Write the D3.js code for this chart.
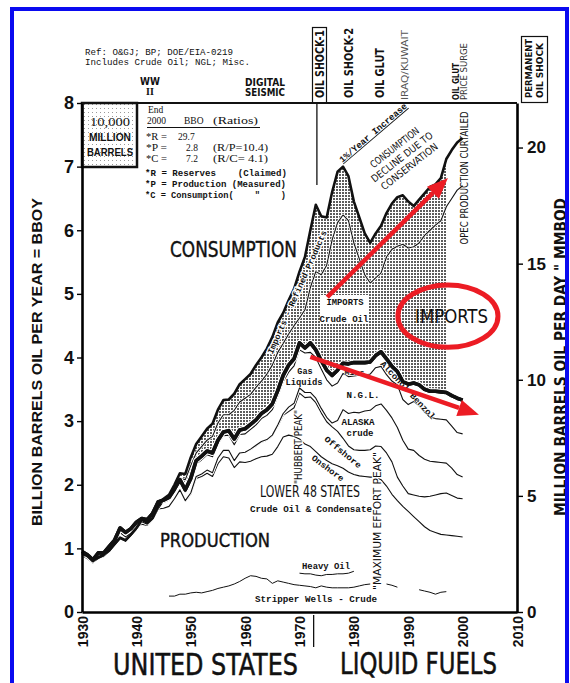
<!DOCTYPE html>
<html>
<head>
<meta charset="utf-8">
<script src="https://cdnjs.cloudflare.com/ajax/libs/d3/7.8.5/d3.min.js"></script>
<style>
  body { margin: 0; background: #fff; }
  svg { display: block; }
  .mono { font-family: "Liberation Mono", "DejaVu Sans Mono", monospace; }
  .serif { font-family: "Liberation Serif", "DejaVu Serif", serif; }
  .sans { font-family: "Liberation Sans", Arial, sans-serif; }
  .narrow { font-family: "Liberation Sans Narrow", "DejaVu Sans Condensed", "Liberation Sans", sans-serif; }
</style>
</head>
<body>
<div id="chart"></div>
<script>
// ---- data (billion barrels per year) ----
const years = d3.range(1930, 2001);

const consumption = [
  0.92, 0.88, 0.80, 0.86, 0.90, 0.97, 1.07, 1.17, 1.13, 1.22,
  1.32, 1.45, 1.40, 1.48, 1.66, 1.78, 1.84, 2.00, 2.18, 2.17,
  2.43, 2.64, 2.76, 2.88, 2.96, 3.18, 3.33, 3.34, 3.43, 3.58,
  3.66, 3.74, 3.88, 4.00, 4.14, 4.32, 4.55, 4.70, 4.90, 5.08,
  5.35, 5.58, 6.00, 6.40, 6.22, 6.20, 6.60, 6.92, 7.00, 6.85,
  6.45, 6.20, 5.95, 5.80, 5.95, 6.07, 6.27, 6.42, 6.52, 6.55,
  6.45, 6.38, 6.48, 6.58, 6.68, 6.72, 6.82, 7.12, 7.26, 7.38,
  7.45];

// consumption less refined product imports
const lessRefined = [
  0.90, 0.86, 0.78, 0.84, 0.88, 0.95, 1.05, 1.15, 1.11, 1.20,
  1.30, 1.42, 1.38, 1.46, 1.62, 1.74, 1.80, 1.94, 2.10, 2.08,
  2.30, 2.50, 2.60, 2.70, 2.76, 2.97, 3.10, 3.10, 3.17, 3.30,
  3.36, 3.42, 3.53, 3.63, 3.74, 3.88, 4.08, 4.22, 4.37, 4.50,
  4.62, 4.75, 5.10, 5.35, 5.30, 5.45, 5.85, 6.12, 6.24, 6.15,
  5.80, 5.55, 5.30, 5.17, 5.25, 5.33, 5.58, 5.70, 5.75, 5.78,
  5.72, 5.74, 5.80, 5.92, 6.00, 6.08, 6.15, 6.37, 6.50, 6.63,
  6.70];

// total liquids production (heavy line)
const production = [
  0.95, 0.90, 0.82, 0.93, 0.93, 1.03, 1.13, 1.32, 1.25, 1.31,
  1.41, 1.47, 1.45, 1.55, 1.73, 1.76, 1.80, 1.93, 2.08, 1.92,
  2.10, 2.38, 2.45, 2.53, 2.50, 2.70, 2.83, 2.85, 2.72, 2.86,
  2.88, 2.95, 3.02, 3.12, 3.18, 3.27, 3.48, 3.72, 3.88, 3.98,
  4.23, 4.15, 4.23, 4.12, 3.95, 3.80, 3.72, 3.80, 3.91, 3.90,
  3.92, 3.92, 3.92, 3.93, 4.03, 4.09, 3.98, 3.86, 3.78, 3.62,
  3.58, 3.60, 3.57, 3.50, 3.47, 3.47, 3.46, 3.45, 3.40, 3.36,
  3.33];

const crudeNgl = [
  0.93, 0.88, 0.80, 0.91, 0.91, 1.01, 1.11, 1.30, 1.23, 1.29,
  1.39, 1.44, 1.42, 1.52, 1.70, 1.72, 1.76, 1.89, 2.04, 1.88,
  2.05, 2.33, 2.39, 2.47, 2.44, 2.64, 2.77, 2.78, 2.63, 2.79,
  2.80, 2.87, 2.94, 3.04, 3.09, 3.18, 3.39, 3.62, 3.77, 3.87,
  4.12, 4.07, 4.08, 4.00, 3.82, 3.65, 3.55, 3.60, 3.75, 3.70,
  3.71, 3.72, 3.72, 3.74, 3.84, 3.86, 3.73, 3.63, 3.57, 3.34,
  3.26, 3.31, 3.24, 3.14, 3.06, 3.04, 3.03, 3.02, 2.92, 2.82,
  2.80];

const crude = [
  0.88, 0.84, 0.77, 0.87, 0.87, 0.97, 1.07, 1.25, 1.18, 1.24,
  1.33, 1.38, 1.36, 1.45, 1.62, 1.63, 1.66, 1.78, 1.92, 1.75,
  1.87, 2.13, 2.17, 2.23, 2.19, 2.42, 2.54, 2.54, 2.38, 2.50,
  2.51, 2.56, 2.62, 2.68, 2.71, 2.78, 2.94, 3.12, 3.22, 3.28,
  3.52, 3.45, 3.45, 3.36, 3.20, 3.06, 2.97, 3.01, 3.18, 3.12,
  3.14, 3.13, 3.16, 3.17, 3.24, 3.27, 3.17, 3.05, 2.90, 2.70,
  2.56, 2.54, 2.46, 2.40, 2.37, 2.36, 2.35, 2.34, 2.26, 2.16,
  2.12];

const lower48 = [
  null, null, null, null, null, null, null, null, null, null,
  null, null, null, null, null, null, null, null, null, null,
  null, null, null, null, null, null, null, null, 2.38, 2.50,
  2.51, 2.55, 2.61, 2.67, 2.70, 2.77, 2.92, 3.09, 3.15, 3.21,
  3.44, 3.37, 3.38, 3.29, 3.13, 2.99, 2.91, 2.84, 2.73, 2.61,
  2.55, 2.54, 2.54, 2.55, 2.61, 2.60, 2.50, 2.36, 2.12, 1.98,
  1.86, 1.84, 1.82, 1.81, 1.82, 1.84, 1.86, 1.87, 1.83, 1.79,
  1.78];

const onshore = [
  0.88, 0.84, 0.77, 0.87, 0.87, 0.97, 1.07, 1.25, 1.18, 1.24,
  1.33, 1.38, 1.36, 1.45, 1.62, 1.63, 1.66, 1.775, 1.91, 1.74,
  1.85, 2.10, 2.13, 2.18, 2.13, 2.33, 2.44, 2.42, 2.27, 2.36,
  2.35, 2.37, 2.41, 2.44, 2.45, 2.48, 2.60, 2.75, 2.78, 2.76,
  2.72, 2.64, 2.60, 2.52, 2.44, 2.38, 2.33, 2.30, 2.26, 2.20,
  2.16, 2.14, 2.13, 2.12, 2.12, 2.08, 1.98, 1.85, 1.75, 1.66,
  1.58, 1.50, 1.42, 1.34, 1.28, 1.25, 1.22, 1.21, 1.20, 1.19,
  1.18];

const heavyYears = d3.range(1970, 1981);
const heavyOil = [0.61, 0.60, 0.60, 0.58, 0.57, 0.59, 0.59, 0.60, 0.60, 0.61, 0.64];

const stripperYears = d3.range(1946, 1998);
const stripper = [
  0.25, 0.25, 0.28, 0.28, 0.30, 0.31, 0.30, 0.32, 0.34, 0.37,
  0.39, 0.41, 0.44, 0.48, 0.53, 0.57, 0.56, 0.53, 0.52, 0.45,
  0.49, 0.47, 0.45, 0.43, 0.42, 0.41, 0.40, 0.38, 0.41, 0.39,
  0.38, 0.38, 0.38, 0.38, 0.39, 0.41, 0.43, 0.44, null, null,
  0.44, 0.42, 0.39, null, null, null, 0.35, 0.33, 0.31, 0.28,
  0.31, 0.32];

const leftTicks = [0, 1, 2, 3, 4, 5, 6, 7, 8];
const rightTicks = [0, 5, 10, 15, 20];
const yearTicks = [1930, 1940, 1950, 1960, 1970, 1980, 1990, 2000, 2010];

// ---- setup ----
const W = 570, H = 683;
const svg = d3.select("#chart").append("svg").attr("width", W).attr("height", H);

const x = d3.scaleLinear().domain([1930, 2010]).range([82, 517]);
const y = d3.scaleLinear().domain([0, 8]).range([612, 103]);
const y2 = d3.scaleLinear().domain([0, 8000 / 365]).range([612, 103]);

const defs = svg.append("defs");
const dots = defs.append("pattern").attr("id", "dots")
  .attr("width", 3).attr("height", 3).attr("patternUnits", "userSpaceOnUse");
dots.append("rect").attr("width", 3).attr("height", 3).attr("fill", "#fff");
dots.append("rect").attr("width", 2).attr("height", 2).attr("fill", "#5c5c5c");
const boxDots = defs.append("pattern").attr("id", "boxdots")
  .attr("width", 4).attr("height", 4).attr("patternUnits", "userSpaceOnUse");
boxDots.append("rect").attr("width", 4).attr("height", 4).attr("fill", "#fff");
boxDots.append("rect").attr("width", 1).attr("height", 1).attr("fill", "#9a9a9a");

const pts = (ys, arr) => ys.map((yr, i) => [yr, arr[i]]);
const line = d3.line().defined(d => d[1] != null).x(d => x(d[0])).y(d => y(d[1]));

// imports shading between production and consumption, cut at 1997
const shadeIdx = years.map((yr, i) => i).filter(i => years[i] >= 1946 && years[i] <= 1997);
const shade = d3.area()
  .x(i => x(years[i]))
  .y0(i => y(production[i]))
  .y1(i => y(consumption[i]));
svg.append("path").attr("d", shade(shadeIdx)).attr("fill", "url(#dots)");

// faint paper grid line at 15 MMBOD inside shading
svg.append("line")
  .attr("x1", x(1975)).attr("x2", x(1997)).attr("y1", y2(15)).attr("y2", y2(15))
  .attr("stroke", "#fff").attr("stroke-width", 1.2).attr("stroke-dasharray", "2,1.5").attr("opacity", 0.8);

function drawLine(data, width, halo) {
  const d = line(data);
  if (halo) svg.append("path").attr("d", d).attr("fill", "none")
    .attr("stroke", "#fff").attr("stroke-width", halo).attr("stroke-linejoin", "round");
  svg.append("path").attr("d", d).attr("fill", "none")
    .attr("stroke", "#111").attr("stroke-width", width).attr("stroke-linejoin", "round");
}

drawLine(pts(years, onshore), 1.1, 3);
drawLine(pts(years, lower48), 1.1, 3);
drawLine(pts(years, crude), 1.1, 3);
drawLine(pts(years, crudeNgl), 1.1, 3);
drawLine(pts(years, lessRefined), 1.1, 2.6);
drawLine(pts(years, production), 3.6, 6);
drawLine(pts(years, consumption), 2.6, 0);
drawLine(pts(heavyYears, heavyOil), 1, 0);
drawLine(pts(stripperYears, stripper), 1, 0);

// ---- text helper ----
function label(s, px, py, o = {}) {
  const t = svg.append("text")
    .attr("x", px).attr("y", py)
    .attr("class", o.cls || "mono")
    .attr("font-size", o.size || 9)
    .attr("font-weight", o.weight || "normal")
    .attr("text-anchor", o.anchor || "start")
    .attr("fill", o.fill || "#111")
    .text(s);
  if (o.dy) t.attr("dy", o.dy);
  if (o.len) t.attr("textLength", o.len).attr("lengthAdjust", "spacingAndGlyphs");
  if (o.rot) t.attr("transform", `rotate(${o.rot},${px},${py})`);
  if (o.halo) t.attr("stroke", "#fff").attr("stroke-width", o.halo).attr("paint-order", "stroke");
  if (o.pre) t.attr("xml:space", "preserve").style("white-space", "pre");
  if (o.deco) t.style("text-decoration", o.deco);
  return t;
}

// header notes
label("Ref: O&GJ; BP; DOE/EIA-0219", 85, 55, { size: 9, len: 148 });
label("Includes Crude Oil; NGL; Misc.", 85, 65, { size: 9, len: 165 });
label("WW", 150, 85, { cls: "narrow", size: 10, weight: "bold", anchor: "middle" });
label("II", 150, 95, { cls: "serif", size: 10, weight: "bold", anchor: "middle" });
label("DIGITAL", 265, 86, { cls: "narrow", size: 10, weight: "bold", anchor: "middle", len: 40 });
label("SEISMIC", 265, 96, { cls: "narrow", size: 10, weight: "bold", anchor: "middle", len: 40 });

// top event labels
const evY = 99;
svg.append("rect").attr("x", 312.5).attr("y", 27.5).attr("width", 14).attr("height", 75.5)
  .attr("fill", "#fff").attr("stroke", "#111").attr("stroke-width", 1.2);
label("OIL SHOCK-1", 319.5, evY - 1, { cls: "narrow", size: 11.5, weight: "bold", rot: -90, dy: "0.36em", len: 68 });
label("OIL SHOCK-2", x(1979), evY - 1, { cls: "narrow", size: 11.5, weight: "bold", rot: -90, dy: "0.36em", len: 70 });
label("OIL  GLUT", x(1984.7), evY - 1, { cls: "narrow", size: 11.5, weight: "bold", rot: -90, dy: "0.36em", len: 50 });
label("IRAQ/KUWAIT", x(1989.4), evY + 1, { cls: "narrow", size: 9, rot: -90, dy: "0.36em", len: 70, fill: "#555" });
label("OIL GLUT", x(1998.8), evY + 1, { cls: "narrow", size: 9, weight: "bold", rot: -90, dy: "0.36em", len: 37 });
label("PRICE SURGE", x(2000.3), evY + 1, { cls: "narrow", size: 8, rot: -90, dy: "0.36em", len: 57, fill: "#333" });
svg.append("rect").attr("x", 521.5).attr("y", 36.5).attr("width", 26).attr("height", 66)
  .attr("fill", "#fff").attr("stroke", "#111").attr("stroke-width", 1.2);
label("PERMANENT", 528.5, 98, { cls: "narrow", size: 9.5, weight: "bold", rot: -90, dy: "0.36em", len: 59 });
label("OIL SHOCK", 540, 98, { cls: "narrow", size: 9.5, weight: "bold", rot: -90, dy: "0.36em", len: 55 });

// 1973 marker line
svg.append("line").attr("x1", x(1973.2)).attr("x2", x(1973.2)).attr("y1", 103).attr("y2", 185)
  .attr("stroke", "#111").attr("stroke-width", 1.3);
svg.append("line").attr("x1", x(1972.6)).attr("x2", x(1972.6)).attr("y1", 615).attr("y2", 647)
  .attr("stroke", "#111").attr("stroke-width", 1.3);

// 10,000 million barrels box
svg.append("rect").attr("x", 82).attr("y", 103).attr("width", 55).attr("height", 64)
  .attr("fill", "url(#boxdots)").attr("stroke", "#111").attr("stroke-width", 2.5);
label("10,000", 110, 126, { cls: "serif", size: 13, anchor: "middle", len: 40 });
label("MILLION", 110, 141, { cls: "sans", size: 10.5, weight: "bold", anchor: "middle", len: 42 });
label("BARRELS", 110, 156, { cls: "sans", size: 10.5, weight: "bold", anchor: "middle", len: 46 });

// ratio block
label("End", 148, 113, { cls: "serif", size: 9.5 });
label("2000", 147, 124, { cls: "serif", size: 9.5 });
label("BBO", 184, 124, { cls: "serif", size: 9.5 });
label("(Ratios)", 213, 124, { cls: "serif", size: 9.5, len: 45 });
svg.append("line").attr("x1", 147).attr("x2", 260).attr("y1", 127.5).attr("y2", 127.5)
  .attr("stroke", "#111").attr("stroke-width", 1);
[["*R =", "29.7", "", 140, 178], ["*P =", "2.8", "(R/P=10.4)", 151, 186], ["*C =", "7.2", "(R/C= 4.1)", 162, 186]]
  .forEach(r => {
    label(r[0], 146, r[3], { cls: "serif", size: 9.5, len: 21 });
    label(r[1], r[4], r[3], { cls: "serif", size: 9.5 });
    if (r[2]) label(r[2], 213, r[3], { cls: "serif", size: 9.5, len: 55, pre: true });
  });
label("*R = Reserves    (Claimed)", 145, 176, { size: 9, weight: "bold", len: 142, pre: true });
label("*P = Production (Measured)", 145, 187, { size: 9, weight: "bold", len: 141, pre: true });
label("*C = Consumption(    \"    )", 145, 198, { size: 9, weight: "bold", len: 141, pre: true });

// big region labels
label("CONSUMPTION", 170, 257, { cls: "narrow", size: 22, len: 127 }).attr("stroke", "#111").attr("stroke-width", 0.4);
label("PRODUCTION", 160, 547, { cls: "narrow", size: 19, len: 110 }).attr("stroke", "#111").attr("stroke-width", 0.4);
label("LOWER 48 STATES", 260, 497, { cls: "narrow", size: 16, len: 100 });
label("Crude Oil & Condensate", 250, 512, { size: 9.2, weight: "bold", len: 122 });

// annotations inside the chart
label("Imports - Refined Products", 297, 292, { size: 8.5, weight: "bold", anchor: "middle", rot: -66, len: 134, halo: 2.5, dy: "0.35em" });
label("1%/Year Increase", 375, 135, { size: 9, weight: "bold", anchor: "middle", rot: -40.5, len: 86, deco: "underline" });
const cons = svg.append("g").attr("transform", "translate(402,157) rotate(-38)");
[["CONSUMPTION", -12, 59], ["DECLINE DUE TO", 0, 75], ["CONSERVATION", 12, 69]].forEach(r => {
  cons.append("text").attr("x", 0).attr("y", r[1]).attr("dy", "0.35em")
    .attr("class", "narrow").attr("font-size", 10).attr("text-anchor", "middle")
    .attr("textLength", r[2]).attr("lengthAdjust", "spacingAndGlyphs").attr("fill", "#111").text(r[0]);
});
label("OPEC PRODUCTION CURTAILED", 464, 178, { cls: "narrow", size: 10, anchor: "middle", rot: -90, dy: "0.35em", len: 133 });

svg.append("rect").attr("x", 320).attr("y", 295).attr("width", 49).attr("height", 29).attr("fill", "#fff");
label("IMPORTS", 345, 305, { size: 8.5, weight: "bold", anchor: "middle", len: 37 });
label("Crude Oil", 344, 322, { size: 8.5, weight: "bold", anchor: "middle", len: 49 });

label("Gas", 305, 374, { size: 8.5, weight: "bold", anchor: "middle" });
label("Liquids", 304, 385, { size: 8.5, weight: "bold", anchor: "middle", len: 37 });
label("Misc.", 357, 375, { size: 8, weight: "bold", anchor: "middle", len: 25, halo: 1.2 });
label("Alcohol Benzol", 408, 390, { size: 8.5, weight: "bold", anchor: "middle", rot: 47, len: 76, dy: "0.35em", halo: 1.2 });
label("N.G.L.", 363, 398, { size: 9, weight: "bold", anchor: "middle", len: 33 });
label("ALASKA", 358, 425, { size: 9, weight: "bold", anchor: "middle", len: 33 });
label("crude", 360, 436, { size: 9, weight: "bold", anchor: "middle", len: 27 });
label("Offshore", 343, 452, { size: 8.5, weight: "bold", anchor: "middle", rot: 39.5, len: 45, dy: "0.35em", halo: 2 });
label("Onshore", 328, 468, { size: 8.5, weight: "bold", anchor: "middle", rot: 37, len: 38, dy: "0.35em", halo: 2 });
label("\"HUBBERT PEAK\"", 298, 447, { cls: "narrow", size: 10, anchor: "middle", rot: -90, dy: "0.35em", len: 74, halo: 2 });
label("\"MAXIMUM EFFORT PEAK\"", 377, 521, { cls: "narrow", size: 10, anchor: "middle", rot: -90, dy: "0.35em", len: 138, halo: 2 });
label("Heavy Oil", 302, 569, { size: 8.8, weight: "bold", len: 48 });
label("Stripper Wells - Crude", 255, 602, { size: 9, weight: "bold", len: 122, pre: true });

// redraw the heavy production line over the small band labels
svg.append("path").attr("d", line(pts(years, production))).attr("fill", "none")
  .attr("stroke", "#111").attr("stroke-width", 3.6).attr("stroke-linejoin", "round");

// ---- red annotations ----
const red = "#ec1c24";
function arrow(p0, p1) {
  const x0 = x(p0[0]), y0 = y(p0[1]), x1 = x(p1[0]), y1 = y(p1[1]);
  const a = Math.atan2(y1 - y0, x1 - x0), hl = 21, hw = 8.5;
  const bx = x1 - hl * Math.cos(a), by = y1 - hl * Math.sin(a);
  svg.append("line").attr("x1", x0).attr("y1", y0).attr("x2", bx).attr("y2", by)
    .attr("stroke", red).attr("stroke-width", 4.5);
  svg.append("polygon").attr("fill", red).attr("points", [
    [x1, y1],
    [bx + hw * Math.sin(a), by - hw * Math.cos(a)],
    [bx - hw * Math.sin(a), by + hw * Math.cos(a)]
  ].map(p => p.join(",")).join(" "));
}
arrow([1975.1, 4.95], [1997.3, 6.82]);
arrow([1972.0, 4.01], [2003.0, 3.10]);
svg.append("ellipse")
  .attr("cx", x(1997.3)).attr("cy", y(4.65))
  .attr("rx", x(2006.5) - x(1997.3)).attr("ry", y(4.16) - y(4.65))
  .attr("fill", "none").attr("stroke", red).attr("stroke-width", 5);
label("IMPORTS", 415, 323, { cls: "narrow", size: 20, len: 73 });

// ---- axes and frame ----
const tickFont = g => g.selectAll("text")
  .attr("font-family", "Liberation Sans, Arial, sans-serif").attr("font-weight", "bold").attr("fill", "#111");

const axL = svg.append("g").attr("transform", `translate(${x(1930)},0)`)
  .call(d3.axisLeft(y).tickValues(leftTicks).tickSize(5).tickSizeOuter(0).tickPadding(3).tickFormat(d3.format("d")));
axL.call(tickFont).selectAll("text").attr("font-size", 18);
axL.select(".domain").attr("stroke-width", 2.6);
axL.selectAll(".tick line").attr("stroke-width", 1.4);

const axR = svg.append("g").attr("transform", `translate(${x(2010)},0)`)
  .call(d3.axisRight(y2).tickValues(rightTicks).tickSize(6).tickSizeOuter(0).tickPadding(4));
axR.call(tickFont).selectAll("text").attr("font-size", 17);
axR.select(".domain").attr("stroke-width", 2.6);
axR.selectAll(".tick line").attr("stroke-width", 1.4);

const axB = svg.append("g").attr("transform", `translate(0,${y(0)})`)
  .call(d3.axisBottom(x).tickValues(yearTicks).tickSize(0).tickSizeOuter(0).tickFormat(d3.format("d")));
axB.call(tickFont).selectAll("text")
  .attr("font-size", 14).attr("transform", "rotate(-90)")
  .attr("text-anchor", "end").attr("x", -4).attr("y", 0).attr("dy", "0.36em");
axB.select(".domain").attr("stroke-width", 2.6);

svg.append("line").attr("x1", x(1930)).attr("x2", x(2010)).attr("y1", y(8)).attr("y2", y(8))
  .attr("stroke", "#111").attr("stroke-width", 2.2);

// axis titles
label("BILLION BARRELS OIL PER YEAR = BBOY", 37, 362, { cls: "sans", size: 14, weight: "bold", anchor: "middle", rot: -90, dy: "0.35em", len: 328 });
label("MILLION BARRELS OIL PER DAY \" MMBOD", 561, 357, { cls: "narrow", size: 15, weight: "bold", anchor: "middle", rot: -90, dy: "0.35em", len: 318 });

label("UNITED STATES", 113, 675, { cls: "narrow", size: 30, len: 185 }).attr("stroke", "#111").attr("stroke-width", 0.5);
label("LIQUID FUELS", 340, 674, { cls: "narrow", size: 30, len: 157 }).attr("stroke", "#111").attr("stroke-width", 0.5);

// blue scan border
svg.append("rect").attr("x", 12).attr("y", 9).attr("width", 555).attr("height", 700)
  .attr("fill", "none").attr("stroke", "#0a0af0").attr("stroke-width", 4);
</script>
</body>
</html>
